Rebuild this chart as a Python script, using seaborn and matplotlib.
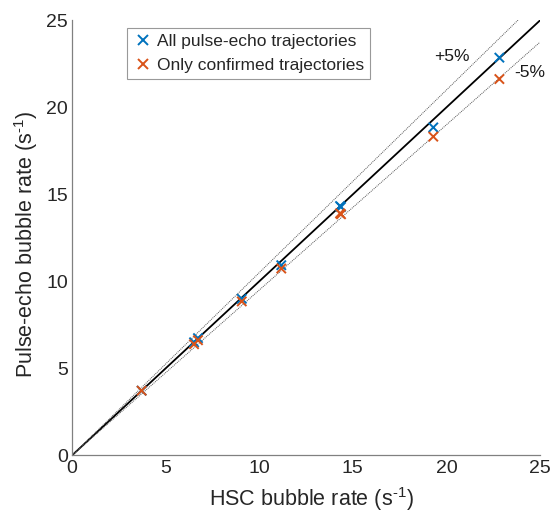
import matplotlib
matplotlib.use("Agg")
import matplotlib.pyplot as plt
import seaborn as sns
import pandas as pd
import numpy as np

# Data
hsc_rate = [3.72, 6.52, 6.73, 9.07, 11.18, 14.32, 14.37, 19.30, 22.83]
all_rate = [3.72, 6.50, 6.74, 9.00, 10.93, 14.33, 14.28, 18.85, 22.86]
confirmed_rate = [3.72, 6.39, 6.62, 8.85, 10.74, 13.91, 13.86, 18.32, 21.63]
series_names = ["All pulse-echo trajectories", "Only confirmed trajectories"]
ticks = [0, 5, 10, 15, 20, 25]

sns.set_theme(style="white")
plt.rcParams["font.family"] = ["Liberation Sans", "DejaVu Sans"]
plt.rcParams["mathtext.fontset"] = "custom"
plt.rcParams["mathtext.rm"] = "Liberation Sans"
plt.rcParams["mathtext.it"] = "Liberation Sans:italic"

df = pd.DataFrame({
    "hsc": hsc_rate * 2,
    "pe": all_rate + confirmed_rate,
    "series": [series_names[0]] * len(hsc_rate) + [series_names[1]] * len(hsc_rate),
})

fig = plt.figure(figsize=(5.5, 5.13), dpi=100)
ax = fig.add_axes([0.1309, 0.1123, 0.8509, 0.8479])

line_x = np.array([0, 25])
ax.plot(line_x, line_x, color="black", lw=1.3, zorder=1)
ax.plot(line_x, 1.05 * line_x, color="#555555", lw=0.7, ls=(0, (1, 1)), zorder=1)
ax.plot(line_x, 0.95 * line_x, color="#555555", lw=0.7, ls=(0, (1, 1)), zorder=1)

sns.scatterplot(data=df, x="hsc", y="pe", hue="series",
                palette=["#0072BD", "#D95319"], marker="x", s=45,
                linewidth=1.4, ax=ax, zorder=3)

ax.set_xlim(0, 25)
ax.set_ylim(0, 25)
ax.set_xticks(ticks)
ax.set_yticks(ticks)
ax.tick_params(direction="in", length=4, width=0.8, color="#808080",
               labelsize=14, labelcolor="#262626", pad=3)
for s in ["top", "right"]:
    ax.spines[s].set_visible(False)
for s in ["left", "bottom"]:
    ax.spines[s].set_color("#808080")
    ax.spines[s].set_linewidth(0.9)

ax.set_xlabel(r"HSC bubble rate (s$^{\text{-1}}$)", fontsize=15.5, color="#262626")
ax.set_ylabel(r"Pulse-echo bubble rate (s$^{\text{-1}}$)", fontsize=15.5, color="#262626")
ax.xaxis.set_label_coords(0.512, -0.068)
ax.yaxis.set_label_coords(-0.068, 0.484)

ax.text(20.3, 22.95, "+5%", fontsize=12.5, ha="center", va="center", color="#1a1a1a")
ax.text(24.45, 22.0, "-5%", fontsize=12.5, ha="center", va="center", color="#1a1a1a")

leg = ax.legend(loc="upper left", bbox_to_anchor=(0.117, 0.982), fontsize=12.5,
                frameon=True, fancybox=False, edgecolor="#808080",
                handletextpad=0.2, handlelength=1.2, borderpad=0.35,
                labelspacing=0.5, borderaxespad=0)
leg.get_frame().set_linewidth(0.8)

fig.savefig("out.png", dpi=100)
